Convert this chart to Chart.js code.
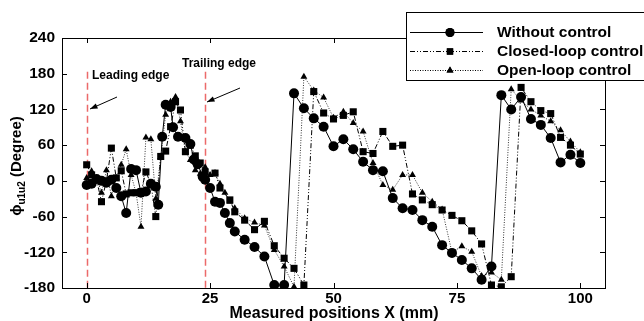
<!DOCTYPE html>
<html>
<head>
<meta charset="utf-8">
<script src="https://cdn.jsdelivr.net/npm/chart.js@4/dist/chart.umd.min.js"></script>
<style>
  html, body { margin: 0; padding: 0; background: #fff; }
  #wrap { width: 644px; height: 321px; }
</style>
</head>
<body>
<div id="wrap"><canvas id="phaseChart" width="644" height="321"></canvas></div>
<script>
// tick labels
const xTicks = [0, 25, 50, 75, 100];
const yTicks = [-180, -120, -60, 0, 60, 120, 180, 240];

// Without control
const woX = [0,1,2,3,4,5,6,7,8,9,10,11,12,13,14,14.5,15.3,16,17,17.5,18.5,20,21,21.7,22.5,23.5,24,25,26,27,28,29,30,32,34,36,38,40,
  42,44,46,48,50,52,54,56,58,60,62,64,66,68,70,72,74,76,78,80,82,84,86,88,90,92,94,96,98,100];
const woY = [-7,-5,3,0,-3,2,-12,-26,-54,20,18,-20,-18,-5,-10,-40,74,128,124,90,74,72,62,36,28,7,2,-12,-35,-37,-54,-71,-85,-99,-111,-127,-175,-175,
  147,122,105,91,58,70,53,32,18,16,-29,-46,-49,-66,-77,-108,-121,-133,-147,-166,-144,144,120,141,104,94,72,31,44,30];

// Closed-loop control
const clX = [0,1,2,3,4,5,6,7,8,9,10,11,12,13,14,15,16,17,18,19,20,21,22,23,24,26,27,29,30,32,34,36,38,40,42,44,
  46,48,50,52,54,56,58,60,62,64,66,68,70,72,74,76,78,80,82,84,86,88,90,92,94,96,98,100];
const clY = [27,10,2,-35,0,55,5,17,-22,-20,-20,-18,15,-5,-60,41,50,91,133,119,49,60,42,30,15,13,-12,-32,-52,-66,-82,-68,-109,-130,-147,-175,
  150,114,104,110,116,49,46,83,58,60,-22,-32,-40,-49,-58,-67,-84,-106,-175,-178,-161,157,133,118,113,73,60,45];

// Open-loop control
const olX = [0,1,2,3,4,5,6,7,8,9,10,11,12,13,14,15,16,17,18,19,20,21,22,23,24,25,26,27,28,29,30,32,34,36,38,40,42,
  44,46,48,50,52,54,56,58,60,62,64,66,68,70,72,74,76,78,80,82,84,86,88,90,92,94,96,98,100];
const olY = [5,16,5,-20,18,-26,5,27,53,10,-20,-77,73,70,-30,40,111,133,141,100,49,35,18,12,23,10,13,-5,-20,-35,-46,-63,-70,-75,-116,-144,-178,
  175,152,140,106,116,97,83,30,-7,-15,10,10,-20,-35,-48,-120,-110,-119,-160,-154,-166,154,135,120,110,100,85,66,48];

const leadingX = 0;
const trailingX = 24;

const pts = (xs, ys) => xs.map((v, i) => ({ x: v, y: ys[i] }));
const FONT = '"Liberation Sans", Arial, sans-serif';

const overlay = {
  id: 'overlay',
  beforeDatasetsDraw(chart) {
    const { ctx, chartArea: a, scales: { x, y } } = chart;
    ctx.save();
    // red dashed edge lines
    ctx.strokeStyle = '#ec6a6a';
    ctx.lineWidth = 1.5;
    ctx.setLineDash([7, 4]);
    [leadingX, trailingX].forEach(v => {
      const px = Math.round(x.getPixelForValue(v)) + 0.5;
      ctx.beginPath();
      ctx.moveTo(px, y.getPixelForValue(180) - 2);
      ctx.lineTo(px, a.bottom);
      ctx.stroke();
    });
    ctx.restore();
  },
  afterDraw(chart) {
    const { ctx, chartArea: a, scales: { x, y } } = chart;
    ctx.save();
    ctx.strokeStyle = '#000';
    ctx.fillStyle = '#000';
    ctx.lineWidth = 1;
    // frame
    ctx.strokeRect(a.left + 0.5, a.top + 0.5, a.right - a.left, a.bottom - a.top);
    // inward ticks
    ctx.beginPath();
    xTicks.forEach(v => {
      const px = Math.round(x.getPixelForValue(v)) + 0.5;
      ctx.moveTo(px, a.bottom); ctx.lineTo(px, a.bottom - 5);
      ctx.moveTo(px, a.top); ctx.lineTo(px, a.top + 5);
    });
    yTicks.forEach(v => {
      const py = Math.round(y.getPixelForValue(v)) + 0.5;
      ctx.moveTo(a.left, py); ctx.lineTo(a.left + 5, py);
      ctx.moveTo(a.right, py); ctx.lineTo(a.right - 5, py);
    });
    ctx.stroke();

    // annotations
    ctx.font = 'bold 12px ' + FONT;
    ctx.textBaseline = 'middle';
    ctx.fillText('Leading edge', 92, 76);
    ctx.fillText('Trailing edge', 182, 64);
    const arrow = (x1, y1, x2, y2) => {
      ctx.beginPath(); ctx.moveTo(x1, y1); ctx.lineTo(x2, y2); ctx.stroke();
      const ang = Math.atan2(y2 - y1, x2 - x1);
      ctx.beginPath();
      ctx.moveTo(x2, y2);
      ctx.lineTo(x2 - 8 * Math.cos(ang - 0.35), y2 - 8 * Math.sin(ang - 0.35));
      ctx.lineTo(x2 - 8 * Math.cos(ang + 0.35), y2 - 8 * Math.sin(ang + 0.35));
      ctx.closePath(); ctx.fill();
    };
    arrow(117, 97, 90, 109);
    arrow(240, 88, 207, 102);

    // legend box
    ctx.fillStyle = '#fff';
    ctx.fillRect(406, 12, 250, 68);
    ctx.strokeStyle = '#000';
    ctx.strokeRect(406.5, 12.5, 250, 68);
    const rows = [
      { t: 'Without control', y: 32, dash: [], style: 'circle', r: 4.5 },
      { t: 'Closed-loop control', y: 51, dash: [5, 2, 1, 2, 1, 2], style: 'rect', r: 4.5 },
      { t: 'Open-loop control', y: 70, dash: [1, 1.5], style: 'triangle', r: 4 }
    ];
    rows.forEach(r => {
      ctx.strokeStyle = '#000';
      ctx.setLineDash(r.dash);
      ctx.beginPath(); ctx.moveTo(410, r.y + 0.5); ctx.lineTo(483, r.y + 0.5); ctx.stroke();
      ctx.setLineDash([]);
      ctx.fillStyle = '#000';
      Chart.helpers.drawPoint(ctx, { pointStyle: r.style, radius: r.r, rotation: 0, borderWidth: 0 }, 450, r.y + 0.5);
      ctx.fill();
      ctx.font = 'bold 15.5px ' + FONT;
      ctx.textBaseline = 'middle';
      ctx.fillText(r.t, 497, r.y + 1);
    });

    // axis titles
    ctx.fillStyle = '#000';
    ctx.font = 'bold 16px ' + FONT;
    ctx.textAlign = 'center';
    ctx.textBaseline = 'bottom';
    ctx.fillText('Measured positions X (mm)', 334, 322);

    ctx.save();
    ctx.translate(17, 166);
    ctx.rotate(-Math.PI / 2);
    ctx.textAlign = 'left';
    ctx.textBaseline = 'middle';
    const main = 'ϕ', sub = 'u1u2', rest = ' (Degree)';
    ctx.font = 'bold 15px ' + FONT;
    const w1 = ctx.measureText(main).width;
    const w3 = ctx.measureText(rest).width;
    ctx.font = 'bold 10px ' + FONT;
    const w2 = ctx.measureText(sub).width;
    let sx = -(w1 + w2 + w3) / 2;
    ctx.font = 'bold 15px ' + FONT;
    ctx.fillText(main, sx, 0);
    ctx.font = 'bold 10px ' + FONT;
    ctx.fillText(sub, sx + w1, 5);
    ctx.font = 'bold 15px ' + FONT;
    ctx.fillText(rest, sx + w1 + w2, 0);
    ctx.restore();

    ctx.restore();
  }
};

new Chart(document.getElementById('phaseChart'), {
  type: 'line',
  data: {
    datasets: [
      {
        label: 'Without control',
        data: pts(woX, woY),
        borderColor: '#000',
        backgroundColor: '#000',
        borderWidth: 1,
        pointStyle: 'circle',
        pointRadius: 5,
        pointBorderWidth: 0,
        tension: 0,
      },
      {
        label: 'Closed-loop control',
        data: pts(clX, clY),
        borderColor: '#000',
        backgroundColor: '#000',
        borderWidth: 1,
        borderDash: [5, 2, 1, 2, 1, 2],
        pointStyle: 'rect',
        pointRadius: 5,
        pointBorderWidth: 0,
        tension: 0,
      },
      {
        label: 'Open-loop control',
        data: pts(olX, olY),
        borderColor: '#333',
        backgroundColor: '#000',
        borderWidth: 1,
        borderDash: [1, 1.5],
        pointStyle: 'triangle',
        pointRadius: 4,
        pointBorderWidth: 0,
        tension: 0,
      },
    ],
  },
  options: {
    responsive: false,
    animation: false,
    layout: { padding: { top: 38, right: 39, left: 0, bottom: 0 } },
    scales: {
      x: {
        type: 'linear',
        min: -5,
        max: 105,
        afterBuildTicks: s => { s.ticks = xTicks.map(v => ({ value: v })); },
        afterFit: s => { s.height = 33; },
        grid: { display: false, drawTicks: false },
        border: { display: false },
        ticks: { color: '#000', padding: 2, font: { family: FONT, size: 15, weight: 'bold' } },
      },
      y: {
        min: -180,
        max: 240,
        afterBuildTicks: s => { s.ticks = yTicks.map(v => ({ value: v })); },
        afterFit: s => { s.width = 62; },
        grid: { display: false, drawTicks: false },
        border: { display: false },
        ticks: { color: '#000', padding: 7, font: { family: FONT, size: 15.5, weight: 'bold' } },
      },
    },
    plugins: {
      legend: { display: false },
      tooltip: { enabled: false },
    },
  },
  plugins: [overlay],
});
</script>
</body>
</html>
